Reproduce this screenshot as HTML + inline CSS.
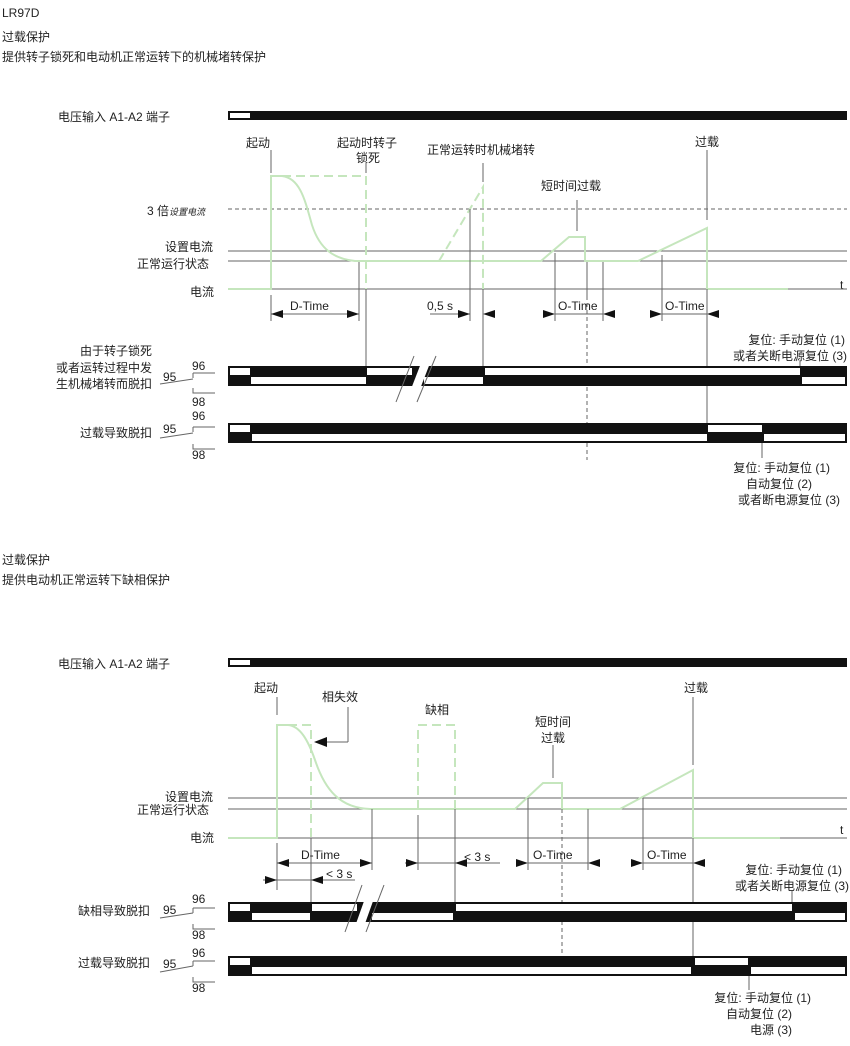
<!DOCTYPE html>
<html><head><meta charset="utf-8"><style>
html,body{margin:0;padding:0;background:#fff}
svg{display:block}
text{font-family:"Liberation Sans","Noto Sans CJK SC",sans-serif;font-size:12px;fill:#222}
.g{stroke:#c5e6bd;stroke-width:2;fill:none}
.gd{stroke:#c5e6bd;stroke-width:2;fill:none;stroke-dasharray:9,5}
.l{stroke:#666;stroke-width:1;fill:none}
.d{stroke:#666;stroke-width:1;fill:none;stroke-dasharray:4,3}
</style></head><body>
<svg width="850" height="1046" viewBox="0 0 850 1046" xmlns="http://www.w3.org/2000/svg">
<text x="2" y="17">LR97D</text>
<text x="2" y="41">过载保护</text>
<text x="2" y="61">提供转子锁死和电动机正常运转下的机械堵转保护</text>

<!-- TOP DIAGRAM -->
<text x="58" y="121">电压输入 A1-A2  端子</text>
<rect x="228" y="111" width="619" height="9" fill="#111"/>
<rect x="230" y="113" width="20" height="5" fill="#fff"/>
<text x="246" y="147">起动</text>
<text x="337" y="147">起动时转子</text>
<text x="356" y="162">锁死</text>
<text x="427" y="154">正常运转时机械堵转</text>
<text x="541" y="190">短时间过载</text>
<text x="695" y="146">过载</text>
<text x="147" y="215">3 倍<tspan font-size="9" font-style="italic">设置电流</tspan></text>
<text x="165" y="251">设置电流</text>
<text x="137" y="268">正常运行状态</text>
<text x="190" y="296">电流</text>
<text x="840" y="289">t</text>
<line class="d" x1="228" y1="209" x2="847" y2="209"/>
<line class="l" x1="228" y1="251" x2="847" y2="251"/>
<line class="l" x1="228" y1="261" x2="847" y2="261"/>
<line class="l" x1="271" y1="289" x2="847" y2="289"/>
<path class="g" d="M228,289 H271 V176 H282 C300,178 305,200 312,225 C320,250 335,259 355,261 H541 L569,237 H585 V261 H638 L707,228 V289 H788"/>
<path class="gd" d="M282,176 H366 V289"/>
<path class="gd" d="M439,261 L483,187 V289"/>
<line class="l" x1="271" y1="150" x2="271" y2="173"/>
<line class="l" x1="366" y1="163" x2="366" y2="173"/>
<line class="l" x1="483" y1="163" x2="483" y2="182"/>
<line class="l" x1="577" y1="200" x2="577" y2="231"/>
<line class="l" x1="707" y1="150" x2="707" y2="220"/>
<line class="l" x1="271" y1="295" x2="271" y2="321"/>
<line class="l" x1="359" y1="262" x2="359" y2="321"/>
<line class="l" x1="366" y1="289" x2="366" y2="366"/>
<line class="l" x1="470" y1="209" x2="470" y2="321"/>
<line class="l" x1="483" y1="289" x2="483" y2="366"/>
<line class="l" x1="555" y1="253" x2="555" y2="321"/>
<line class="l" x1="587" y1="262" x2="587" y2="296"/>
<line class="d" x1="587" y1="296" x2="587" y2="460"/>
<line class="l" x1="603" y1="262" x2="603" y2="321"/>
<line class="l" x1="662" y1="255" x2="662" y2="321"/>
<line class="l" x1="707" y1="289" x2="707" y2="423"/>
<text x="290" y="310">D-Time</text>
<line class="l" x1="271" y1="314" x2="359" y2="314"/>
<path d="M271,314 l12,-4 v8z M359,314 l-12,-4 v8z" fill="#111"/>
<text x="427" y="310">0,5 s</text>
<line class="l" x1="430" y1="314" x2="470" y2="314"/>
<path d="M470,314 l-12,-4 v8z M483,314 l12,-4 v8z" fill="#111"/>
<text x="558" y="310">O-Time</text>
<line class="l" x1="555" y1="314" x2="603" y2="314"/>
<path d="M555,314 l-12,-4 v8z M603,314 l12,-4 v8z" fill="#111"/>
<text x="665" y="310">O-Time</text>
<line class="l" x1="662" y1="314" x2="707" y2="314"/>
<path d="M662,314 l-12,-4 v8z M707,314 l12,-4 v8z" fill="#111"/>
<text x="845" y="344" text-anchor="end">复位:  手动复位 (1)</text>
<text x="847" y="360" text-anchor="end">或者关断电源复位 (3)</text>
<line class="l" x1="800" y1="361" x2="800" y2="366"/>
<text x="152" y="355" text-anchor="end">由于转子锁死</text>
<text x="152" y="372" text-anchor="end">或者运转过程中发</text>
<text x="152" y="388" text-anchor="end">生机械堵转而脱扣</text>
<text x="192" y="370">96</text><text x="163" y="381">95</text><text x="192" y="406">98</text>
<path class="l" d="M193,373 H215 M193,373 V378 M160,384 L193,379 M193,388 V393 H215" />
<rect x="228" y="366" width="619" height="20" fill="#111"/>
<rect x="230" y="368" width="20" height="7" fill="#fff"/>
<rect x="367" y="368" width="45" height="7" fill="#fff"/>
<rect x="485" y="368" width="315" height="7" fill="#fff"/>
<rect x="251" y="377" width="115" height="7" fill="#fff"/>
<rect x="424" y="377" width="59" height="7" fill="#fff"/>
<rect x="802" y="377" width="43" height="7" fill="#fff"/>
<polygon points="406,402 423,358 432,358 415,402" fill="#fff"/>
<line class="l" x1="396" y1="402" x2="414" y2="356"/>
<line class="l" x1="417" y1="402" x2="436" y2="356"/>
<text x="152" y="437" text-anchor="end">过载导致脱扣</text>
<text x="192" y="420">96</text><text x="163" y="433">95</text><text x="192" y="459">98</text>
<path class="l" d="M193,427 H215 M193,427 V432 M160,438 L193,433 M193,444 V449 H215" />
<rect x="228" y="423" width="619" height="20" fill="#111"/>
<rect x="230" y="425" width="20" height="7" fill="#fff"/>
<rect x="708" y="425" width="54" height="7" fill="#fff"/>
<rect x="252" y="434" width="455" height="7" fill="#fff"/>
<rect x="764" y="434" width="81" height="7" fill="#fff"/>
<line class="l" x1="762" y1="443" x2="762" y2="458"/>
<text x="830" y="472" text-anchor="end">复位:  手动复位 (1)</text>
<text x="812" y="488" text-anchor="end">自动复位 (2)</text>
<text x="840" y="504" text-anchor="end">或者断电源复位 (3)</text>

<!-- SECOND SECTION -->
<text x="2" y="564">过载保护</text>
<text x="2" y="584">提供电动机正常运转下缺相保护</text>
<text x="58" y="668">电压输入 A1-A2  端子</text>
<rect x="228" y="658" width="619" height="9" fill="#111"/>
<rect x="230" y="660" width="20" height="5" fill="#fff"/>
<text x="254" y="692">起动</text>
<text x="322" y="701">相失效</text>
<text x="425" y="714">缺相</text>
<text x="535" y="726">短时间</text>
<text x="541" y="742">过载</text>
<text x="684" y="692">过载</text>
<text x="165" y="801">设置电流</text>
<text x="137" y="814">正常运行状态</text>
<text x="190" y="842">电流</text>
<text x="840" y="834">t</text>
<line class="l" x1="228" y1="798" x2="847" y2="798"/>
<line class="l" x1="228" y1="809" x2="847" y2="809"/>
<line class="l" x1="277" y1="838" x2="847" y2="838"/>
<path class="g" d="M228,838 H277 V725 H288 C300,726 308,740 315,760 C325,790 340,808 370,809 H515 L543,783 H562 V809 H620 L693,770 V838 H780"/>
<path class="gd" d="M288,725 H311 V838"/>
<path class="gd" d="M418,809 V725 H455 V809"/>
<line class="l" x1="277" y1="697" x2="277" y2="715"/>
<line class="l" x1="348" y1="707" x2="348" y2="742"/>
<line class="l" x1="348" y1="742" x2="325" y2="742"/>
<path d="M314,742 l13,-5 v10z" fill="#111"/>
<line class="l" x1="553" y1="745" x2="553" y2="778"/>
<line class="l" x1="693" y1="697" x2="693" y2="765"/>
<line class="l" x1="277" y1="843" x2="277" y2="890"/>
<line class="l" x1="311" y1="838" x2="311" y2="902"/>
<line class="l" x1="372" y1="809" x2="372" y2="870"/>
<line class="l" x1="418" y1="815" x2="418" y2="870"/>
<line class="l" x1="455" y1="809" x2="455" y2="902"/>
<line class="l" x1="528" y1="798" x2="528" y2="870"/>
<line class="d" x1="562" y1="809" x2="562" y2="956"/>
<line class="l" x1="588" y1="809" x2="588" y2="870"/>
<line class="l" x1="643" y1="798" x2="643" y2="870"/>
<line class="l" x1="693" y1="838" x2="693" y2="956"/>
<text x="301" y="859">D-Time</text>
<line class="l" x1="277" y1="863" x2="372" y2="863"/>
<path d="M277,863 l12,-4 v8z M372,863 l-12,-4 v8z" fill="#111"/>
<line class="l" x1="405" y1="863" x2="500" y2="863"/>
<path d="M418,863 l-12,-4 v8z M455,863 l12,-4 v8z" fill="#111"/>
<text x="464" y="861" font-size="13">&lt; 3 s</text>
<text x="533" y="859">O-Time</text>
<line class="l" x1="528" y1="863" x2="588" y2="863"/>
<path d="M528,863 l-12,-4 v8z M588,863 l12,-4 v8z" fill="#111"/>
<text x="647" y="859">O-Time</text>
<line class="l" x1="643" y1="863" x2="693" y2="863"/>
<path d="M643,863 l-12,-4 v8z M693,863 l12,-4 v8z" fill="#111"/>
<line class="l" x1="263" y1="880" x2="355" y2="880"/>
<path d="M277,880 l-12,-4 v8z M311,880 l12,-4 v8z" fill="#111"/>
<text x="326" y="878" font-size="13">&lt; 3 s</text>
<text x="842" y="874" text-anchor="end">复位:  手动复位 (1)</text>
<text x="849" y="890" text-anchor="end">或者关断电源复位 (3)</text>
<line class="l" x1="792" y1="891" x2="792" y2="902"/>
<text x="150" y="915" text-anchor="end">缺相导致脱扣</text>
<text x="192" y="903">96</text><text x="163" y="914">95</text><text x="192" y="939">98</text>
<path class="l" d="M193,908 H215 M193,908 V913 M160,918 L193,913 M193,924 V929 H215" />
<rect x="228" y="902" width="619" height="20" fill="#111"/>
<rect x="230" y="904" width="20" height="7" fill="#fff"/>
<rect x="312" y="904" width="45" height="7" fill="#fff"/>
<rect x="456" y="904" width="336" height="7" fill="#fff"/>
<rect x="252" y="913" width="58" height="7" fill="#fff"/>
<rect x="372" y="913" width="81" height="7" fill="#fff"/>
<rect x="795" y="913" width="50" height="7" fill="#fff"/>
<polygon points="353,932 368,890 377,890 362,932" fill="#fff"/>
<line class="l" x1="345" y1="932" x2="362" y2="885"/>
<line class="l" x1="366" y1="932" x2="384" y2="885"/>
<text x="150" y="967" text-anchor="end">过载导致脱扣</text>
<text x="192" y="957">96</text><text x="163" y="968">95</text><text x="192" y="992">98</text>
<path class="l" d="M193,961 H215 M193,961 V966 M160,972 L193,966 M193,977 V982 H215" />
<rect x="228" y="956" width="619" height="20" fill="#111"/>
<rect x="230" y="958" width="20" height="7" fill="#fff"/>
<rect x="695" y="958" width="53" height="7" fill="#fff"/>
<rect x="252" y="967" width="439" height="7" fill="#fff"/>
<rect x="751" y="967" width="94" height="7" fill="#fff"/>
<line class="l" x1="749" y1="976" x2="749" y2="990"/>
<text x="811" y="1002" text-anchor="end">复位:  手动复位 (1)</text>
<text x="792" y="1018" text-anchor="end">自动复位 (2)</text>
<text x="792" y="1034" text-anchor="end">电源 (3)</text>
</svg>
</body></html>
